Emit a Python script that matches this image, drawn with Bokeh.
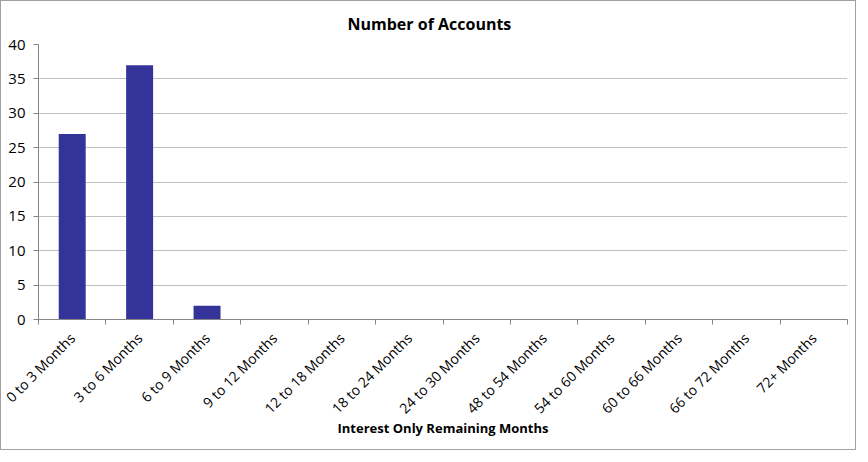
import math
from bokeh.plotting import figure
from bokeh.models import Range1d, LinearAxis, FixedTicker
from bokeh.embed import file_html
from bokeh.resources import INLINE

categories = ["0 to 3 Months", "3 to 6 Months", "6 to 9 Months", "9 to 12 Months",
              "12 to 18 Months", "18 to 24 Months", "24 to 30 Months", "48 to 54 Months",
              "54 to 60 Months", "60 to 66 Months", "66 to 72 Months", "72+ Months"]
accounts = [27, 37, 2, 0, 0, 0, 0, 0, 0, 0, 0, 0]
y_ticks = [0, 5, 10, 15, 20, 25, 30, 35, 40]

FONT = "Open Sans"
AXIS_COLOR = "#868686"

n = len(categories)
centers = [i + 0.5 for i in range(n)]
bounds = list(range(n + 1))

p = figure(x_range=Range1d(0, n), y_range=Range1d(0, 40), width=856, height=450,
           output_backend="svg", toolbar_location=None, x_axis_location=None,
           min_border_left=37, min_border_right=10, min_border_top=43, min_border_bottom=132)
p.styles = {"border": "1px solid #a0a0a0"}
p.outline_line_color = None
p.background_fill_color = "white"
p.border_fill_color = "white"
p.xgrid.grid_line_color = None

p.title.text = "Number of Accounts"
p.title.align = "left"
p.title.offset = 309
p.title.standoff = 16
p.title.vertical_align = "top"
p.title.text_font = FONT
p.title.text_font_style = "bold"
p.title.text_font_size = "16px"
p.title.text_color = "#000000"

p.vbar(x=centers, top=accounts, width=0.4, fill_color="#333399", line_color=None)

# y axis
p.yaxis.ticker = FixedTicker(ticks=y_ticks)
p.yaxis.major_tick_in = 0
p.yaxis.major_tick_out = 5
p.yaxis.minor_tick_line_color = None
p.yaxis.axis_line_color = AXIS_COLOR
p.yaxis.major_tick_line_color = AXIS_COLOR
p.yaxis.major_label_text_font = FONT
p.yaxis.major_label_text_font_size = "15px"
p.yaxis.major_label_text_color = "#000000"
p.yaxis.major_label_standoff = 8
p.ygrid.grid_line_color = "#c0c0c0"

# x tick marks at category boundaries
tick_axis = LinearAxis(ticker=FixedTicker(ticks=bounds),
                       major_label_text_font_size="0px", major_label_text_alpha=0,
                       major_label_standoff=0, major_tick_in=0, major_tick_out=5,
                       minor_tick_line_color=None, axis_line_color=AXIS_COLOR,
                       major_tick_line_color=AXIS_COLOR)
p.add_layout(tick_axis, "below")

label_axis = LinearAxis(ticker=FixedTicker(ticks=centers),
                        major_label_overrides={c: name for c, name in zip(centers, categories)},
                        axis_label="Interest Only Remaining Months",
                        major_tick_line_color=None, axis_line_color=None,
                        minor_tick_line_color=None,
                        major_label_orientation=math.pi / 4,
                        major_label_standoff=5,
                        major_label_text_font=FONT,
                        major_label_text_font_size="14px",
                        major_label_text_color="#000000",
                        axis_label_text_font=FONT,
                        axis_label_text_font_style="bold",
                        axis_label_text_font_size="13px",
                        axis_label_text_color="#000000",
                        axis_label_standoff=-8)
p.add_layout(label_axis, "below")

open("out.html", "w").write(file_html(p, INLINE))
